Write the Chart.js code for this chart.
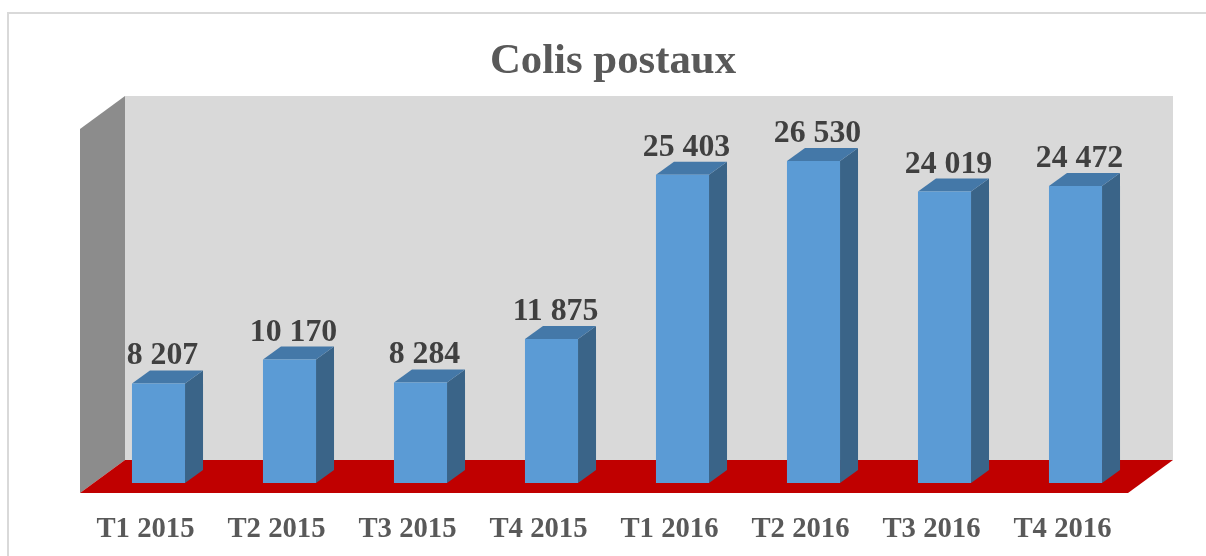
<!DOCTYPE html>
<html><head><meta charset="utf-8">
<script src="https://cdn.jsdelivr.net/npm/chart.js@4"></script>
<style>
html,body{margin:0;padding:0;background:#fff;overflow:hidden}
#wrap{position:absolute;left:0;top:0;width:1206px;height:556px}
</style></head><body>
<div id="wrap"><canvas id="c" width="1206" height="556"></canvas></div>
<script>
const categories = ["T1 2015","T2 2015","T3 2015","T4 2015","T1 2016","T2 2016","T3 2016","T4 2016"];
const colisValues = [8207,10170,8284,11875,25403,26530,24019,24472];
const valueLabels = ["8 207","10 170","8 284","11 875","25 403","26 530","24 019","24 472"];
const chartTitle = "Colis postaux";

const D = {dx:45, dy:33, barDx:18, barDy:13, shiftX:13, shiftY:10};
function poly(ctx, pts, fill){
  ctx.beginPath();
  pts.forEach((p,i)=> i?ctx.lineTo(p[0],p[1]):ctx.moveTo(p[0],p[1]));
  ctx.closePath(); ctx.fillStyle=fill; ctx.fill();
}
const scene = {
  id:'scene',
  beforeDraw(chart){
    const {ctx,chartArea:a}=chart;
    ctx.save();
    ctx.fillStyle='#ffffff'; ctx.fillRect(0,0,chart.width,chart.height);
    ctx.strokeStyle='#d9d9d9'; ctx.lineWidth=2;
    ctx.beginPath(); ctx.moveTo(8,556); ctx.lineTo(8,13); ctx.lineTo(1206,13); ctx.stroke();
    ctx.fillStyle='#595959';
    ctx.font='bold 42.8px "Liberation Serif"';
    ctx.textAlign='center'; ctx.textBaseline='alphabetic';
    ctx.fillText(chartTitle,613,73);
    poly(ctx,[[a.left+D.dx,a.top-D.dy],[a.right+D.dx,a.top-D.dy],[a.right+D.dx,a.bottom-D.dy],[a.left+D.dx,a.bottom-D.dy]],'#d9d9d9');
    poly(ctx,[[a.left,a.top],[a.left+D.dx,a.top-D.dy],[a.left+D.dx,a.bottom-D.dy],[a.left,a.bottom]],'#8c8c8c');
    poly(ctx,[[a.left,a.bottom],[a.left+D.dx,a.bottom-D.dy],[a.right+D.dx,a.bottom-D.dy],[a.right,a.bottom]],'#c00000');
    ctx.restore();
  },
  beforeDatasetsDraw(chart){
    const ctx=chart.ctx;
    ctx.save();
    ctx.translate(D.shiftX,-D.shiftY);
    chart.getDatasetMeta(0).data.forEach(b=>{
      const l=b.x-b.width/2, r=b.x+b.width/2, t=b.y, bt=b.base;
      poly(ctx,[[r,t],[r+D.barDx,t-D.barDy],[r+D.barDx,bt-D.barDy],[r,bt]],'#3a6488');
      poly(ctx,[[l,t],[l+D.barDx,t-D.barDy],[r+D.barDx,t-D.barDy],[r,t]],'#4478a8');
    });
  },
  afterDatasetsDraw(chart){
    const ctx=chart.ctx;
    ctx.restore();
    ctx.save();
    ctx.fillStyle='#404040';
    ctx.font='bold 31.8px "Liberation Serif"';
    ctx.textAlign='center'; ctx.textBaseline='alphabetic';
    chart.getDatasetMeta(0).data.forEach((b,i)=>{
      ctx.fillText(valueLabels[i], b.x+D.shiftX+4, b.y-29);
    });
    ctx.restore();
  }
};
new Chart(document.getElementById('c'),{
  type:'bar',
  data:{labels:categories,datasets:[{label:chartTitle,data:colisValues,backgroundColor:'#5b9bd5',borderWidth:0,barPercentage:0.405,categoryPercentage:1}]},
  plugins:[scene],
  options:{
    responsive:false,animation:false,
    layout:{padding:{left:80,right:78,top:129,bottom:0}},
    plugins:{legend:{display:false},tooltip:{enabled:false},title:{display:false}},
    scales:{
      x:{grid:{display:false},border:{display:false},afterFit(s){s.height=63;},ticks:{color:'#595959',font:{family:'"Liberation Serif"',size:28.7,weight:'bold'},maxRotation:0,autoSkip:false,padding:11}},
      y:{display:false,min:0,max:30000}
    }
  }
});
</script>
</body></html>
